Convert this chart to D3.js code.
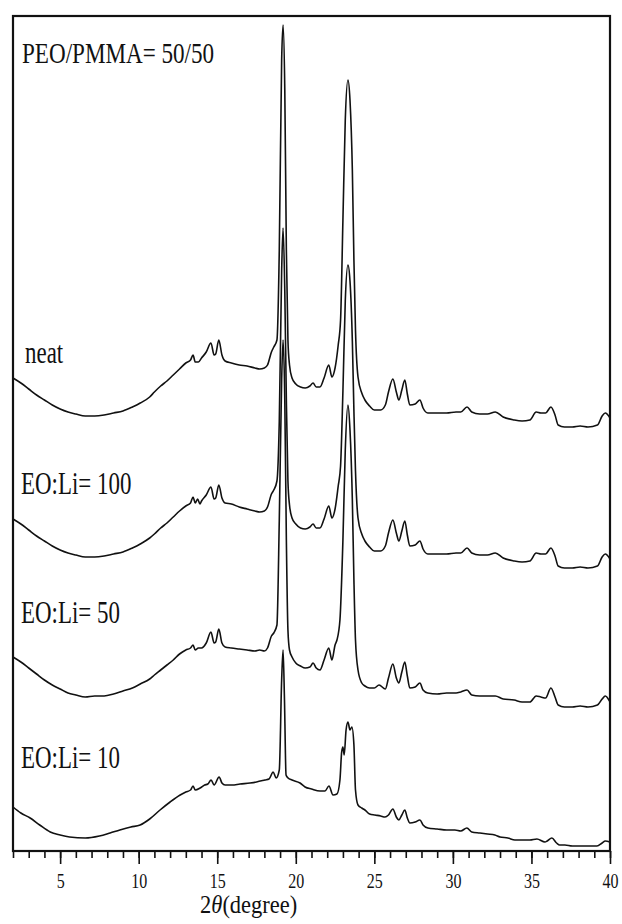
<!DOCTYPE html>
<html>
<head>
<meta charset="utf-8">
<script src="https://cdn.jsdelivr.net/npm/d3@7"></script>
<style>
  html, body { margin: 0; padding: 0; background: #fff; }
  svg text { font-family: "Liberation Serif", "Times New Roman", serif; fill: #111; }
</style>
</head>
<body>
<svg id="xrd_svg" width="622" height="924"></svg>
<script>
// 2theta (degree), intensity (a.u., traces already stacked)
const neat = [
  [2.0,473],[2.5,468],[3.0,462],[3.5,456],[4.0,451],[4.5,446],[5.0,442],[5.5,439],[6.0,437],[6.6,435],
  [7.2,435],[7.8,436],[8.4,438],[9.0,440],[9.6,444],[10.1,448],[10.7,454],[11.0,459],[11.4,465],[11.8,470],
  [12.2,476],[12.6,482],[13.0,488],[13.3,491],[13.46,496],[13.6,489],[13.8,489],[14.0,493],[14.3,499],[14.6,508],
  [14.8,496],[14.9,497],[15.1,511],[15.3,496],[15.5,490],[15.9,488],[16.4,486],[16.9,485],[17.4,483],[17.7,482],
  [18.0,483],[18.2,486],[18.45,499],[18.6,504],[18.8,511],[18.95,601],[19.1,791],[19.19,826],[19.3,761],[19.4,601],
  [19.5,511],[19.6,486],[19.76,473],[20.0,467],[20.3,464],[20.6,463],[20.9,465],[21.1,468],[21.3,464],[21.54,464],
  [21.8,473],[22.1,486],[22.3,474],[22.5,483],[22.7,506],[22.85,531],[23.0,631],[23.15,731],[23.32,771],[23.45,751],
  [23.6,681],[23.7,591],[23.8,521],[23.96,474],[24.2,458],[24.4,451],[24.7,445],[25.0,441],[25.4,441],[25.7,446],
  [25.9,459],[26.18,472],[26.4,459],[26.56,451],[26.75,461],[26.94,471],[27.1,457],[27.26,446],[27.6,447],[27.9,451],
  [28.1,443],[28.4,438],[29.0,438],[29.6,438],[30.2,439],[30.5,439],[30.9,444],[31.2,439],[31.7,437],[32.2,437],
  [32.7,439],[33.2,434],[33.9,431],[34.4,430],[34.9,431],[35.3,439],[35.6,438],[35.9,438],[36.24,444],[36.5,436],
  [36.7,426],[37.1,424],[37.6,424],[38.1,425],[38.6,424],[39.2,426],[39.5,435],[39.7,438],[40.0,433]
];

const li100 = [
  [2.0,332],[2.5,327],[3.0,321],[3.5,315],[4.0,310],[4.5,305],[5.0,301],[5.5,298],[6.0,296],[6.6,294],
  [7.2,294],[7.8,295],[8.4,297],[9.0,299],[9.6,303],[10.1,307],[10.7,313],[11.0,317],[11.4,323],[11.8,328],
  [12.2,334],[12.6,340],[13.0,345],[13.3,348],[13.46,354],[13.6,348],[13.75,352],[13.9,347],[14.0,350],[14.3,356],
  [14.6,364],[14.8,352],[14.9,353],[15.1,366],[15.3,353],[15.5,348],[15.9,347],[16.4,344],[16.9,342],[17.4,340],
  [17.7,339],[18.0,340],[18.2,344],[18.45,357],[18.6,361],[18.8,370],[18.95,430],[19.1,580],[19.19,623],[19.3,560],
  [19.4,450],[19.5,370],[19.6,346],[19.76,333],[20.0,327],[20.3,323],[20.6,322],[20.9,324],[21.1,327],[21.3,323],
  [21.54,323],[21.8,332],[22.1,345],[22.3,333],[22.5,342],[22.7,365],[22.85,385],[23.0,460],[23.15,550],[23.32,586],
  [23.45,570],[23.6,510],[23.7,440],[23.8,380],[23.96,333],[24.2,317],[24.4,310],[24.7,304],[25.0,300],[25.4,300],
  [25.7,305],[25.9,318],[26.18,331],[26.4,318],[26.56,310],[26.75,320],[26.94,330],[27.1,316],[27.26,305],[27.6,306],
  [27.9,310],[28.1,302],[28.4,297],[29.0,297],[29.6,297],[30.2,298],[30.5,298],[30.9,303],[31.2,298],[31.7,296],
  [32.2,296],[32.7,298],[33.2,293],[33.9,290],[34.4,289],[34.9,290],[35.3,298],[35.6,297],[35.9,297],[36.24,303],
  [36.5,295],[36.7,285],[37.1,283],[37.6,283],[38.1,284],[38.6,283],[39.2,285],[39.5,294],[39.7,297],[40.0,292]
];

const li50 = [
  [2.0,194],[2.5,189],[3.0,183],[3.5,177],[4.0,171],[4.5,166],[5.0,162],[5.5,158],[6.0,156],[6.6,154],
  [7.2,155],[7.8,155],[8.4,157],[9.0,160],[9.6,163],[10.1,167],[10.7,172],[11.0,176],[11.4,181],[11.8,186],
  [12.2,191],[12.6,197],[13.0,201],[13.3,203],[13.46,206],[13.6,201],[13.8,203],[14.0,203],[14.3,208],[14.6,219],
  [14.8,208],[14.9,209],[15.1,222],[15.3,208],[15.5,204],[15.9,203],[16.4,202],[16.9,201],[17.4,200],[17.7,201],
  [18.0,200],[18.2,203],[18.45,215],[18.6,218],[18.8,226],[18.95,331],[19.1,471],[19.19,511],[19.3,451],[19.4,311],
  [19.5,221],[19.6,201],[19.76,194],[20.0,188],[20.3,185],[20.6,183],[20.9,184],[21.1,188],[21.3,183],[21.54,181],
  [21.8,191],[22.1,203],[22.3,191],[22.5,206],[22.62,211],[22.81,231],[23.0,311],[23.15,401],[23.32,446],[23.45,421],
  [23.6,351],[23.7,271],[23.8,211],[23.96,181],[24.2,168],[24.4,165],[24.7,163],[25.0,163],[25.3,166],[25.7,162],
  [25.9,173],[26.18,187],[26.4,173],[26.56,168],[26.75,179],[26.94,189],[27.1,175],[27.26,163],[27.6,164],[27.9,168],
  [28.1,161],[28.4,158],[29.0,157],[29.6,158],[30.2,158],[30.5,159],[30.9,161],[31.2,156],[31.7,155],[32.2,155],
  [32.7,155],[33.2,152],[33.9,151],[34.4,149],[34.9,149],[35.3,155],[35.6,154],[35.9,153],[36.24,163],[36.5,154],
  [36.7,146],[37.1,144],[37.6,144],[38.1,145],[38.6,144],[39.2,146],[39.5,152],[39.7,155],[40.0,149]
];

const li10 = [
  [2.0,44],[2.5,38],[3.09,33],[3.7,26],[4.37,19],[5.0,16],[5.6,14],[6.6,13],[7.5,15],[8.18,18],
  [8.8,21],[9.5,24],[10.09,26],[10.7,32],[11.36,41],[12.0,49],[12.64,56],[13.0,59],[13.3,61],[13.46,65],
  [13.6,61],[13.91,63],[14.2,66],[14.4,67],[14.61,71],[14.8,66],[15.12,74],[15.3,68],[15.5,66],[15.94,66],
  [16.45,67],[17.09,68],[17.5,69],[18.04,71],[18.3,72],[18.56,79],[18.75,73],[18.95,81],[19.1,171],[19.19,201],
  [19.28,151],[19.38,76],[19.51,73],[19.76,71],[20.27,68],[20.59,64],[21.0,62],[21.54,60],[21.86,60],[22.11,65],
  [22.37,56],[22.62,57],[22.81,71],[22.92,99],[23.0,104],[23.08,96],[23.2,121],[23.32,129],[23.45,121],[23.57,124],
  [23.7,106],[23.8,61],[23.96,46],[24.2,43],[24.4,41],[24.7,37],[25.04,36],[25.4,35],[25.68,34],[25.9,36],
  [26.18,42],[26.4,34],[26.56,31],[26.75,36],[26.94,41],[27.1,33],[27.26,28],[27.6,29],[27.9,31],[28.1,26],
  [28.41,23],[29.0,22],[29.6,21],[30.13,21],[30.5,20],[30.89,23],[31.2,19],[31.72,18],[32.2,17],[32.67,16],
  [33.0,14],[33.5,13],[33.95,11],[34.4,11],[34.9,11],[35.35,12],[35.86,9],[36.0,10],[36.3,13],[36.6,8],
  [36.8,6],[37.13,6],[37.6,5],[38.1,5],[38.6,5],[39.17,5],[39.5,8],[39.7,10],[40.0,9]
];

const traces = [neat, li100, li50, li10];
const traceLabels = ["neat", "EO:Li= 100", "EO:Li= 50", "EO:Li= 10"];
const labelIntensity = [488, 357, 228, 83];   // baseline of each label, in a.u.
const title = "PEO/PMMA= 50/50";
const majorTicks = [5, 10, 15, 20, 25, 30, 35, 40];

const margin = {top: 16, right: 12, bottom: 73, left: 13};
const width = 622 - margin.left - margin.right;
const height = 924 - margin.top - margin.bottom;

const svg = d3.select("#xrd_svg");
const g = svg.append("g").attr("transform", "translate(" + margin.left + "," + margin.top + ")");

const x = d3.scaleLinear().domain([2, 40]).range([0, width]);
const y = d3.scaleLinear().domain([0, 835]).range([height, 0]);

// minor ticks every degree
g.append("g")
  .attr("transform", "translate(0," + height + ")")
  .call(d3.axisBottom(x).tickValues(d3.range(2, 41, 1)).tickSize(7).tickFormat(""))
  .call(a => a.select(".domain").remove())
  .selectAll("line").attr("stroke", "#111").attr("stroke-width", 1.6);

// major ticks + labels
const xAxis = g.append("g")
  .attr("transform", "translate(0," + height + ")")
  .call(d3.axisBottom(x).tickValues(majorTicks).tickSize(13).tickPadding(0).tickFormat(d3.format("d")));
xAxis.select(".domain").remove();
xAxis.selectAll("line").attr("stroke", "#111").attr("stroke-width", 1.6);
xAxis.selectAll("text")
  .attr("y", 37)
  .attr("dy", null)
  .style("font-size", "20px")
  .attr("transform", "scale(0.8,1)");

// axis title
const axTitle = svg.append("text")
  .attr("text-anchor", "middle")
  .attr("transform", "translate(" + (margin.left + x(17)) + "," + 913 + ") scale(0.9,1)")
  .style("font-size", "25px");
axTitle.append("tspan").text("2");
axTitle.append("tspan").style("font-style", "italic").text("θ");
axTitle.append("tspan").text("(degree)");

// traces
const line = d3.line()
  .curve(d3.curveMonotoneX)
  .x(d => x(d[0]))
  .y(d => y(d[1]));

g.selectAll(".trace")
  .data(traces)
  .join("path")
    .attr("class", "trace")
    .attr("d", line)
    .attr("fill", "none")
    .attr("stroke", "#111")
    .attr("stroke-width", 1.6)
    .attr("stroke-linejoin", "round");

// frame
g.append("rect")
  .attr("x", 0).attr("y", 0)
  .attr("width", width).attr("height", height)
  .attr("fill", "none")
  .attr("stroke", "#111")
  .attr("stroke-width", 2.2);

// labels
g.selectAll(".trace_label")
  .data(traceLabels)
  .join("text")
    .attr("class", "trace_label")
    .attr("transform", function(d, i) {
      return "translate(" + (i == 0 ? 12 : 8) + "," + y(labelIntensity[i]) + ") scale(0.74,1)";
    })
    .style("font-size", "31px")
    .text(d => d);

g.append("text")
  .attr("transform", "translate(9," + y(788) + ") scale(0.77,1)")
  .style("font-size", "30px")
  .text(title);
</script>
</body>
</html>
